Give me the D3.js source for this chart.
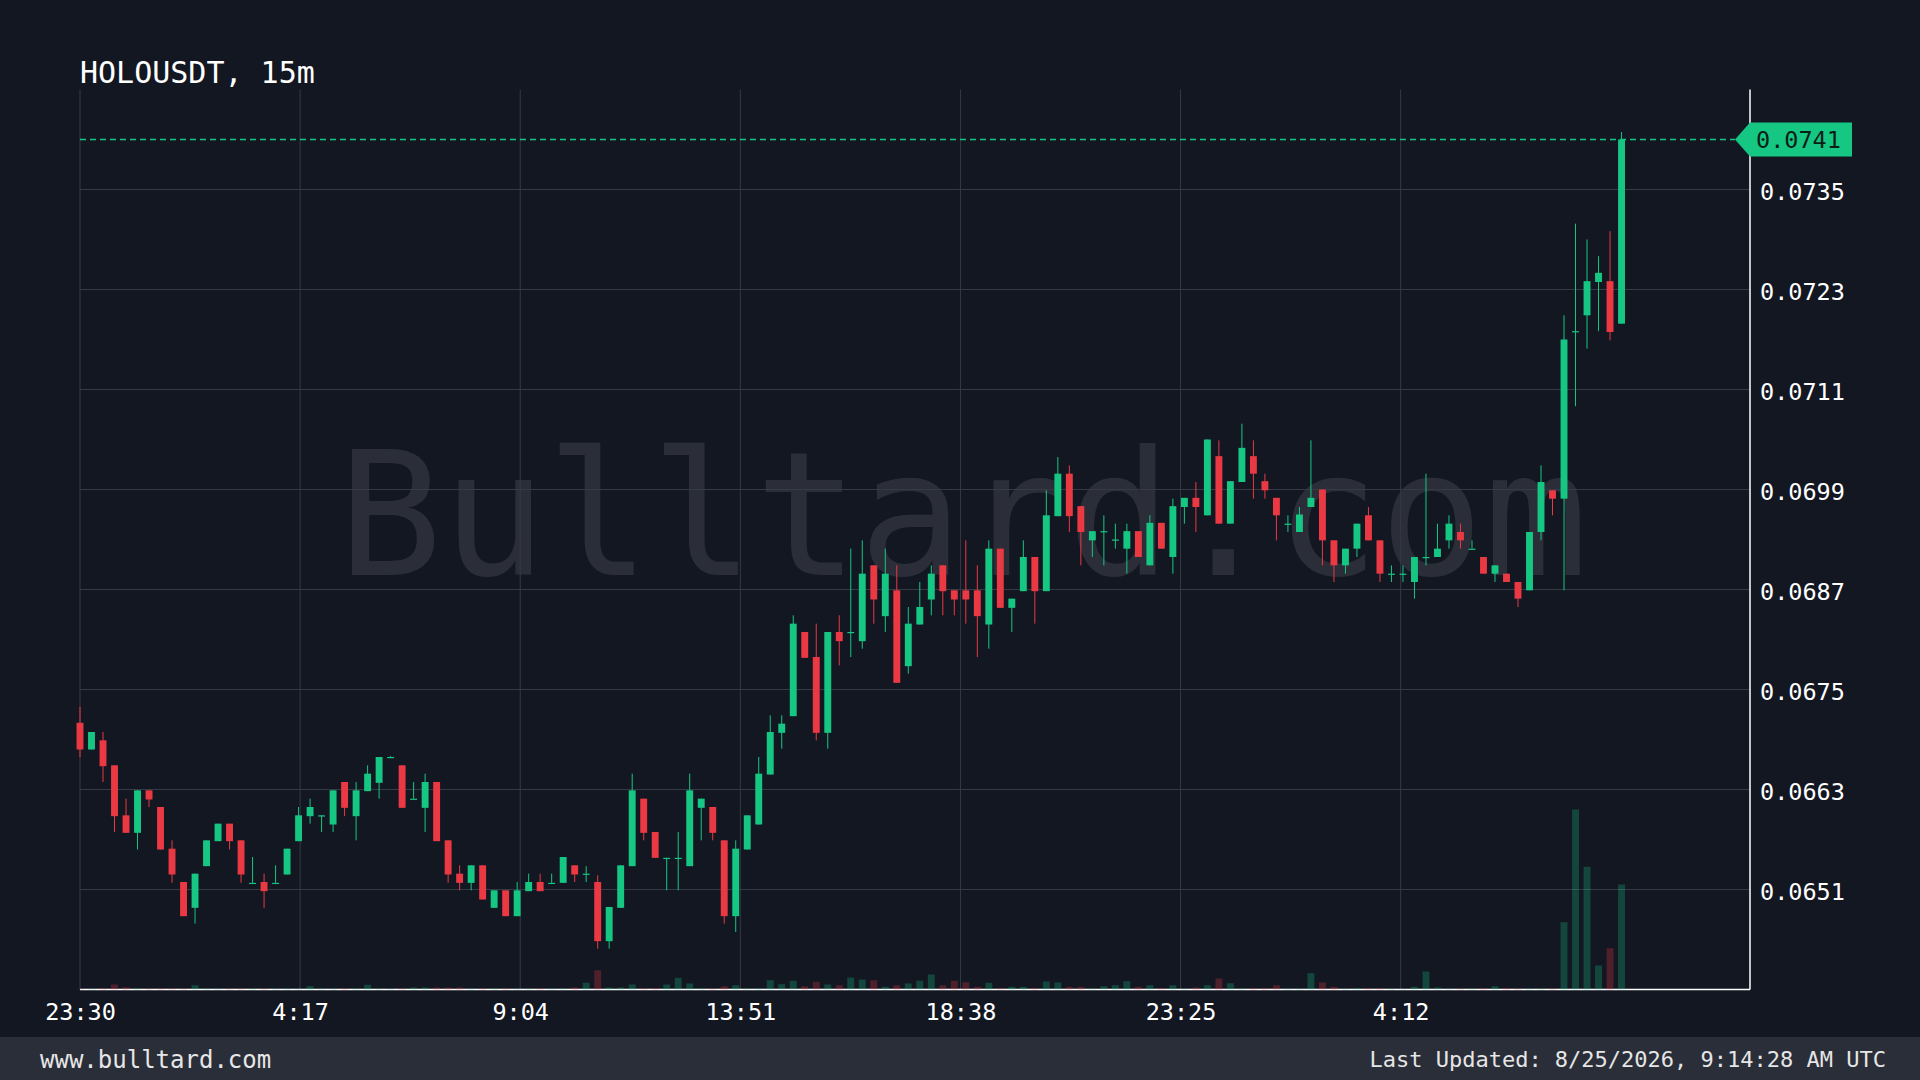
<!DOCTYPE html>
<html><head><meta charset="utf-8">
<script src="https://cdn.jsdelivr.net/npm/d3@7"></script>
<style>html,body{margin:0;padding:0;background:#131722;overflow:hidden}</style>
</head><body>
<svg id="chart" width="1920" height="1080"></svg>
<script>
const title = "HOLOUSDT, 15m";
const startTime = "2026-08-23T23:30:00Z";
const intervalMinutes = 15;

const opens = [0.06710,0.06678,0.06689,0.06659,0.06599,0.06578,0.06629,0.06609,0.06559,0.06519,
0.06488,0.06538,0.06568,0.06589,0.06569,0.06518,0.06519,0.06518,0.06528,0.06568,
0.06598,0.06599,0.06588,0.06639,0.06598,0.06628,0.06638,0.06669,0.06659,0.06619,
0.06608,0.06639,0.06569,0.06529,0.06518,0.06539,0.06488,0.06509,0.06478,0.06508,
0.06519,0.06518,0.06518,0.06539,0.06529,0.06519,0.06448,0.06488,0.06538,0.06619,
0.06579,0.06548,0.06548,0.06538,0.06608,0.06609,0.06569,0.06478,0.06558,0.06588,
0.06648,0.06698,0.06718,0.06819,0.06789,0.06698,0.06819,0.06819,0.06808,0.06899,
0.06838,0.06869,0.06778,0.06828,0.06858,0.06899,0.06869,0.06869,0.06869,0.06828,
0.06919,0.06848,0.06868,0.06909,0.06868,0.06958,0.07009,0.06970,0.06929,0.06940,
0.06930,0.06919,0.06940,0.06899,0.06950,0.06909,0.06969,0.06980,0.06959,0.07030,
0.06949,0.06999,0.07030,0.07000,0.06980,0.06949,0.06939,0.06969,0.06990,0.06929,
0.06899,0.06919,0.06959,0.06929,0.06889,0.06889,0.06879,0.06909,0.06909,0.06929,
0.06939,0.06919,0.06909,0.06889,0.06889,0.06879,0.06869,0.06939,0.06989,0.06979,
0.07180,0.07199,0.07239,0.07240,0.07189];
const highs = [0.06729,0.06699,0.06699,0.06659,0.06619,0.06629,0.06629,0.06609,0.06569,0.06519,
0.06529,0.06569,0.06589,0.06589,0.06569,0.06549,0.06529,0.06539,0.06559,0.06609,
0.06619,0.06599,0.06629,0.06639,0.06639,0.06659,0.06669,0.06670,0.06659,0.06639,
0.06649,0.06639,0.06569,0.06539,0.06539,0.06539,0.06509,0.06509,0.06519,0.06529,
0.06529,0.06529,0.06549,0.06539,0.06538,0.06527,0.06489,0.06539,0.06649,0.06619,
0.06579,0.06548,0.06579,0.06649,0.06619,0.06609,0.06569,0.06569,0.06599,0.06669,
0.06719,0.06719,0.06839,0.06819,0.06829,0.06819,0.06839,0.06919,0.06929,0.06899,
0.06919,0.06899,0.06849,0.06879,0.06899,0.06899,0.06869,0.06929,0.06899,0.06929,
0.06919,0.06859,0.06929,0.06909,0.06989,0.07029,0.07019,0.06970,0.06940,0.06959,
0.06949,0.06949,0.06940,0.06959,0.06950,0.06979,0.06980,0.06999,0.07050,0.07049,
0.07000,0.07069,0.07049,0.07009,0.06980,0.06959,0.06969,0.07049,0.06990,0.06929,
0.06919,0.06949,0.06969,0.06929,0.06899,0.06899,0.06909,0.07009,0.06949,0.06959,
0.06949,0.06929,0.06909,0.06899,0.06889,0.06879,0.06939,0.07019,0.06989,0.07199,
0.07309,0.07290,0.07270,0.07300,0.07419];
const lows = [0.06669,0.06678,0.06639,0.06579,0.06578,0.06558,0.06609,0.06558,0.06518,0.06478,
0.06469,0.06538,0.06568,0.06558,0.06518,0.06518,0.06488,0.06518,0.06528,0.06568,
0.06589,0.06579,0.06579,0.06598,0.06569,0.06628,0.06619,0.06668,0.06608,0.06619,
0.06579,0.06568,0.06518,0.06509,0.06509,0.06498,0.06488,0.06478,0.06478,0.06508,
0.06508,0.06518,0.06518,0.06519,0.06519,0.06439,0.06439,0.06488,0.06538,0.06569,
0.06548,0.06509,0.06509,0.06538,0.06569,0.06569,0.06469,0.06459,0.06558,0.06588,
0.06648,0.06679,0.06718,0.06788,0.06689,0.06679,0.06779,0.06789,0.06799,0.06829,
0.06819,0.06758,0.06769,0.06828,0.06839,0.06839,0.06839,0.06829,0.06789,0.06799,
0.06848,0.06819,0.06868,0.06829,0.06868,0.06958,0.06939,0.06899,0.06909,0.06899,
0.06919,0.06889,0.06909,0.06899,0.06919,0.06889,0.06949,0.06939,0.06959,0.06949,
0.06949,0.06999,0.06979,0.06979,0.06929,0.06939,0.06939,0.06969,0.06899,0.06879,
0.06889,0.06909,0.06929,0.06879,0.06879,0.06879,0.06859,0.06899,0.06909,0.06919,
0.06919,0.06919,0.06889,0.06879,0.06879,0.06849,0.06869,0.06929,0.06959,0.06869,
0.07090,0.07159,0.07180,0.07169,0.07189];
const closes = [0.06678,0.06699,0.06658,0.06598,0.06578,0.06629,0.06618,0.06558,0.06528,0.06478,
0.06529,0.06569,0.06589,0.06568,0.06528,0.06518,0.06508,0.06518,0.06559,0.06599,
0.06609,0.06599,0.06629,0.06608,0.06629,0.06649,0.06669,0.06669,0.06608,0.06619,
0.06639,0.06568,0.06528,0.06518,0.06539,0.06498,0.06509,0.06478,0.06509,0.06519,
0.06508,0.06518,0.06549,0.06528,0.06529,0.06448,0.06489,0.06539,0.06629,0.06578,
0.06548,0.06548,0.06548,0.06629,0.06619,0.06578,0.06478,0.06559,0.06599,0.06649,
0.06699,0.06709,0.06829,0.06788,0.06698,0.06819,0.06808,0.06819,0.06889,0.06858,
0.06889,0.06758,0.06829,0.06849,0.06889,0.06868,0.06858,0.06858,0.06838,0.06919,
0.06848,0.06859,0.06909,0.06868,0.06959,0.07009,0.06958,0.06939,0.06940,0.06940,
0.06930,0.06940,0.06909,0.06950,0.06919,0.06970,0.06980,0.06969,0.07050,0.06949,
0.07000,0.07040,0.07009,0.06989,0.06959,0.06949,0.06960,0.06980,0.06929,0.06899,
0.06919,0.06949,0.06929,0.06889,0.06889,0.06889,0.06909,0.06909,0.06919,0.06949,
0.06929,0.06919,0.06889,0.06899,0.06879,0.06859,0.06939,0.06999,0.06979,0.07170,
0.07180,0.07240,0.07250,0.07179,0.07410];
const volumes = [0.5,0.8,1.3,5,2.3,1,1,1,1,1,
4.3,0.8,0.8,1,1,0.8,0.8,0.8,0.8,0.8,
3.3,0.8,0.8,1,0.8,4.7,0.8,0.6,0.8,2,
2,2,2,2,1,1,1,1,0.8,1,
1,1,1,2,6.7,19.3,2,2,5,1,
1,5,11.7,6,1,1,3.3,4.3,1,1,
9.3,5.3,8.7,3.3,7.7,5,4.3,12,10,9.3,
2.7,4.3,6,8.7,15,4.3,8.7,7.3,2.7,6.7,
1.3,2.7,2.7,1.3,8,7,2.7,2.7,1,3.3,
4.3,8.3,2.7,4.3,1.3,4.3,0.7,2,4.3,11,
6.3,1,1.3,1.3,4.3,0.7,0.7,16.3,7,2.7,
0.7,1.3,1.3,1.3,0.7,0.7,2.7,18,2,0.7,
0.7,0.7,1.3,3.3,1.3,0.7,0.7,0.7,0.7,67.3,
180,122.7,24,41.3,105];

const priceDomain = [0.0639, 0.0747];
const yTicks = [0.0651,0.0663,0.0675,0.0687,0.0699,0.0711,0.0723,0.0735];
const xTickTimes = ["2026-08-23T23:30:00Z","2026-08-24T04:17:00Z","2026-08-24T09:04:00Z","2026-08-24T13:51:00Z","2026-08-24T18:38:00Z","2026-08-24T23:25:00Z","2026-08-25T04:12:00Z"];
const xTickLabels = ["23:30","4:17","9:04","13:51","18:38","23:25","4:12"];
const lastPrice = 0.0741;
const watermark = "Bulltard.com";
const footerLeft = "www.bulltard.com";
const footerRight = "Last Updated: 8/25/2026, 9:14:28 AM UTC";

const UP = "#16c784", DOWN = "#ea3943", BG = "#131722", GRID = "#363a45";
const FONT = "'DejaVu Sans Mono', monospace";
const m = {left: 80, right: 1750, top: 89.5, bottom: 989.5};

const svg = d3.select("#chart");
svg.append("rect").attr("width",1920).attr("height",1080).attr("fill",BG);

const t0 = new Date(startTime);
const data = opens.map((o,i)=>({t:new Date(t0.getTime()+i*intervalMinutes*60000), o, h:highs[i], l:lows[i], c:closes[i], v:volumes[i]}));
const tFirst = data[0].t, tLast = data[data.length-1].t;
const pad = (tLast - tFirst)/12;
const x = d3.scaleUtc().domain([tFirst, new Date(+tLast + pad)]).range([m.left, m.right]);
const y = d3.scaleLinear().domain(priceDomain).range([m.bottom, m.top]);
const vy = d3.scaleLinear().domain([0, d3.max(volumes)]).range([m.bottom, m.bottom - 0.2*(m.bottom-m.top)]);
const step = x(new Date(+tFirst + intervalMinutes*60000)) - x(tFirst);
const bw = step*0.6;
const tickDates = xTickTimes.map(s=>new Date(s));

// watermark
svg.append("text").attr("x",963).attr("y",575).attr("text-anchor","middle")
  .attr("font-family",FONT).attr("font-size",173).attr("fill","#ffffff").attr("fill-opacity",0.1)
  .text(watermark);

// grid
const grid = svg.append("g");
grid.selectAll("line.h").data(yTicks).join("line").attr("class","h")
  .attr("x1",m.left).attr("x2",m.right).attr("y1",d=>y(d)).attr("y2",d=>y(d))
  .attr("stroke",GRID).attr("stroke-width",1);
grid.selectAll("line.v").data(tickDates).join("line").attr("class","v")
  .attr("x1",d=>x(d)).attr("x2",d=>x(d)).attr("y1",m.top).attr("y2",m.bottom)
  .attr("stroke",GRID).attr("stroke-width",1);

// axes lines
svg.append("line").attr("x1",m.left).attr("x2",m.right).attr("y1",m.bottom).attr("y2",m.bottom).attr("stroke","#ffffff").attr("stroke-width",1.5);
svg.append("line").attr("x1",m.right).attr("x2",m.right).attr("y1",m.top).attr("y2",m.bottom).attr("stroke","#ffffff").attr("stroke-width",1.5);

// volume
svg.append("g").selectAll("rect").data(data).join("rect")
  .attr("x",d=>x(d.t)-bw/2).attr("width",bw)
  .attr("y",d=>vy(d.v)).attr("height",d=>m.bottom - vy(d.v))
  .attr("fill",d=>d.c>=d.o?UP:DOWN).attr("fill-opacity",0.28);

// candles
const cg = svg.append("g");
cg.selectAll("line").data(data).join("line")
  .attr("x1",d=>x(d.t)).attr("x2",d=>x(d.t)).attr("y1",d=>y(d.h)).attr("y2",d=>y(d.l))
  .attr("stroke",d=>d.c>=d.o?UP:DOWN).attr("stroke-width",1);
cg.selectAll("rect").data(data).join("rect")
  .attr("x",d=>x(d.t)-bw/2).attr("width",bw)
  .attr("y",d=>y(Math.max(d.o,d.c)))
  .attr("height",d=>Math.max(1.2, Math.abs(y(d.o)-y(d.c))))
  .attr("fill",d=>d.c>=d.o?UP:DOWN);

// axes text
const yAxis = d3.axisRight(y).tickValues(yTicks).tickFormat(d3.format(".4f")).tickSize(0).tickPadding(10);
const ya = svg.append("g").attr("transform",`translate(${m.right},0)`).call(yAxis);
ya.select(".domain").remove();
ya.selectAll("text").attr("font-family",FONT).attr("font-size",23.5).attr("fill","#ffffff").attr("dy","0.42em");

const xAxis = d3.axisBottom(x).tickValues(tickDates).tickFormat((d,i)=>xTickLabels[i]).tickSize(0).tickPadding(14);
const xa = svg.append("g").attr("transform",`translate(0,${m.bottom})`).call(xAxis);
xa.select(".domain").remove();
xa.selectAll("text").attr("font-family",FONT).attr("font-size",23.5).attr("fill","#ffffff");

// last price line & label
const py = y(lastPrice);
svg.append("line").attr("x1",m.left).attr("x2",m.right-15).attr("y1",py).attr("y2",py)
  .attr("stroke",UP).attr("stroke-width",1.3).attr("stroke-dasharray","6,4");
const lx = m.right - 15;
svg.append("path").attr("d",`M${lx},${py} L${m.right},${py-17} L${m.right+102},${py-17} L${m.right+102},${py+17} L${m.right},${py+17} Z`).attr("fill",UP);
svg.append("text").attr("x",m.right+6).attr("y",py).attr("dy","0.38em")
  .attr("font-family",FONT).attr("font-size",23.5).attr("fill","#0b1e14").text(d3.format(".4f")(lastPrice));

// title
svg.append("text").attr("x",80).attr("y",83).attr("font-family",FONT).attr("font-size",30).attr("fill","#ffffff").text(title);

// footer
svg.append("rect").attr("x",0).attr("y",1037).attr("width",1920).attr("height",43).attr("fill","#2a2e39");
svg.append("text").attr("x",40).attr("y",1068).attr("font-family",FONT).attr("font-size",24).attr("fill","#e6e6e6").text(footerLeft);
svg.append("text").attr("x",1886).attr("y",1067).attr("text-anchor","end").attr("font-family",FONT).attr("font-size",22).attr("fill","#e6e6e6").text(footerRight);
</script>
</body></html>
